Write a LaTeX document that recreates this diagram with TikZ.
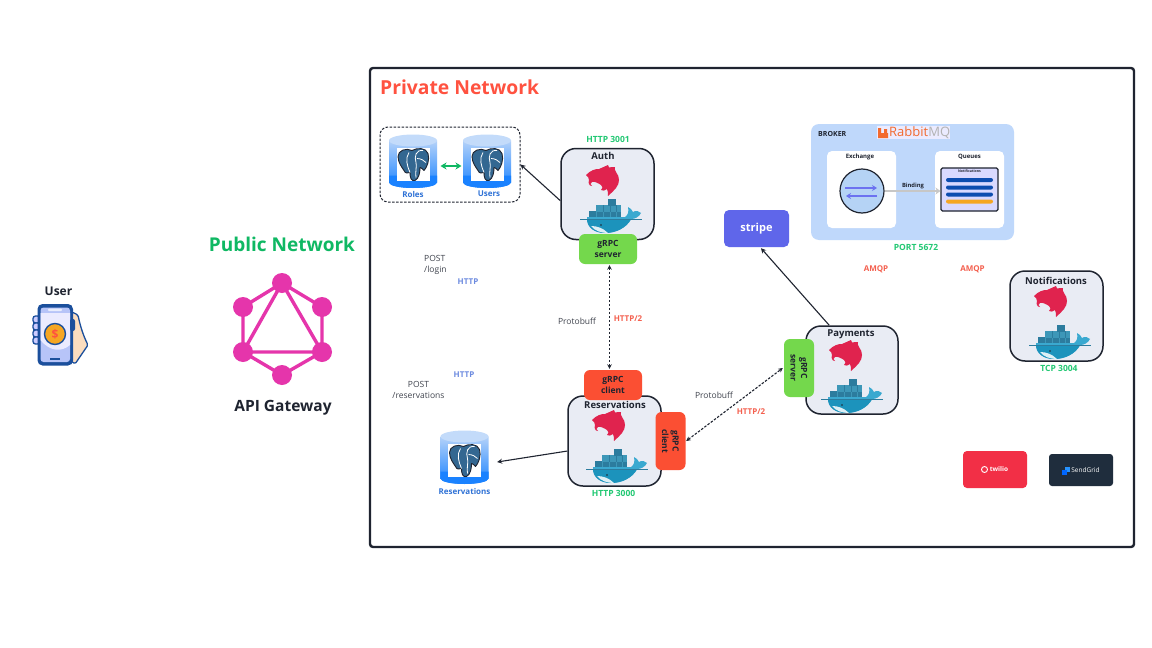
\documentclass[tikz,border=0pt]{standalone}
\usepackage{fontspec}
\setmainfont{Open Sans}
\usetikzlibrary{arrows.meta,calc,shapes.geometric}
\definecolor{ink}{HTML}{1F2430}
\definecolor{svcfill}{HTML}{E9ECF4}
\definecolor{grn}{HTML}{22C873}
\definecolor{pubgrn}{HTML}{0FB863}
\definecolor{red1}{HTML}{FF5240}
\definecolor{amqp}{HTML}{F4604F}
\definecolor{hblue}{HTML}{6D8BE0}
\definecolor{grpcg}{HTML}{74D84C}
\definecolor{grpcr}{HTML}{FB4F33}
\definecolor{nest}{HTML}{E0234E}
\definecolor{whale}{HTML}{1C93BC}
\definecolor{whalelt}{HTML}{3AA9D0}
\definecolor{crate}{HTML}{2C7C9E}
\definecolor{crate2}{HTML}{3D97B8}
\definecolor{pg}{HTML}{336791}
\definecolor{dbl}{HTML}{2F72D6}
\definecolor{dbtop}{HTML}{B4D2F9}
\definecolor{dbmid}{HTML}{7DB4F7}
\definecolor{dbbot}{HTML}{1A82FF}
\definecolor{gql}{HTML}{E535AB}
\definecolor{broker}{HTML}{BFD8FB}
\definecolor{exfill}{HTML}{B5D3F5}
\definecolor{arrowv}{HTML}{6C72F0}
\definecolor{qbar}{HTML}{0D4DB0}
\definecolor{qor}{HTML}{F5A623}
\definecolor{rabbit}{HTML}{F26A2E}
\definecolor{phone}{HTML}{1B4F9C}
\definecolor{skin}{HTML}{FBDDBF}
\definecolor{screen}{HTML}{B7C4F8}
\definecolor{twil}{HTML}{F22F46}
\definecolor{sgrid}{HTML}{1F2D3D}
\definecolor{stripec}{HTML}{5F66EA}
\tikzset{
  svc/.style={draw=ink,line width=1.5pt,fill=svcfill,rounded corners=15pt,minimum width=93pt,minimum height=91pt,inner sep=0pt},
  svctitle/.style={font=\bfseries\fontsize{9.5}{11}\selectfont,text=ink,inner sep=0pt},
  porttext/.style={font=\bfseries\fontsize{8.5}{10}\selectfont,text=grn,inner sep=0pt},
  grpcbox/.style={rounded corners=6pt,minimum width=58pt,minimum height=30pt,inner sep=0pt,align=center,font=\bfseries\fontsize{8.5}{10.5}\selectfont,text=ink},
  plain/.style={font=\fontsize{8.5}{11}\selectfont,text=ink!85,inner sep=0pt,align=center},
  redlab/.style={font=\bfseries\fontsize{8}{10}\selectfont,text=amqp,inner sep=0pt},
  bluelab/.style={font=\bfseries\fontsize{8}{10}\selectfont,text=hblue,inner sep=0pt},
  dblab/.style={font=\bfseries\fontsize{8}{10}\selectfont,text=dbl,inner sep=0pt},
  conn/.style={draw=ink,line width=1.1pt,-{Stealth[length=5pt,width=5pt]}},
  dashconn/.style={draw=ink,line width=1.1pt,dash pattern=on 2.5pt off 1.5pt,{Stealth[length=4.5pt,width=4.5pt]}-{Stealth[length=4.5pt,width=4.5pt]}},
  nestlogo/.pic={
    \fill[nest] (-17,-7) .. controls (-12,-12) and (-8,-13) .. (-4,-13)
      .. controls (-1,-14) and (2,-16) .. (5,-17) .. controls (5,-15.5) and (5,-15) .. (6,-14.5)
      .. controls (8,-15) and (10,-15) .. (12,-15) .. controls (11,-13) and (12,-12) .. (13,-10)
      .. controls (17,-5) and (17,1) .. (13,6) .. controls (11,9) and (8,11) .. (5,14)
      .. controls (5,11) and (5,9) .. (4,7) .. controls (2,9) and (0,9) .. (-2,8)
      .. controls (0,7) and (0,4) .. (-2,3) .. controls (-5,1) and (-9,-1) .. (-11,0)
      .. controls (-13,1) and (-13,3) .. (-11,4) .. controls (-14,4) and (-15,1) .. (-14,-2)
      .. controls (-14,-4) and (-15,-5) .. (-17,-7) -- cycle;
  },
  dockerwhale/.pic={
    \fill[crate] (-22,-4) rectangle (10,2.5);
    \fill[crate2] (-15,-10) rectangle (10,-3.5);
    \fill[crate] (-3,-16.5) rectangle (5,-9.5);
    \foreach \xx in {-15,-8,-1,5}{\draw[crate2,line width=0.5pt] (\xx,-4) -- (\xx,2.5);}
    \foreach \xx in {-8,-1,5}{\draw[crate,line width=0.5pt] (\xx,-10) -- (\xx,-3.5);}
    \fill[whalelt] (-24,2) -- (14,2) .. controls (17,0) and (18,-3) .. (17,-8)
      .. controls (19,-7) and (21,-5.5) .. (22,-3) .. controls (25,-5) and (28,-4) .. (30,-2)
      .. controls (28,2) and (24,4) .. (20,4) .. controls (15,13) and (5,18) .. (-6,18)
      .. controls (-17,18) and (-24,12) .. (-24,2) -- cycle;
    \fill[whale] (-24,4.5) -- (20,4.5) .. controls (15,13) and (5,18) .. (-6,18)
      .. controls (-17,18) and (-24,12) .. (-24,4.5) -- cycle;
    \fill[white!85!whale] (-20,11) .. controls (-14,11) and (-8,13) .. (-3,18) .. controls (-10,18) and (-16,16) .. (-20,11) -- cycle;
    \fill[ink] (-10,10) circle (0.8pt);
    \draw[crate,line width=0.6pt] (-31,4) -- (31,4);
  },
  elephant/.pic={
    \fill[white] (-16.5,-16.5) rectangle (16.5,16.5);
    \fill[pg,draw=ink,line width=0.9pt,line join=round] (-15,-8) .. controls (-15,-14) and (-7,-17) .. (-1,-14)
      .. controls (4,-17) and (13,-17) .. (15,-11) .. controls (17,-5) and (14,3) .. (11,6)
      .. controls (9,4) and (8,3) .. (7,3) .. controls (7,8) and (6,14) .. (2,16)
      .. controls (-2,17) and (-3,13) .. (-3,8) .. controls (-5,9) and (-8,9) .. (-9,6)
      .. controls (-11,3) and (-15,-2) .. (-15,-8) -- cycle;
    \draw[white,line width=0.8pt] (-4,-12) .. controls (-8,-6) and (-6,1) .. (-3,8);
    \draw[white,line width=0.8pt] (10,-14) .. controls (3,-15) and (1,-8) .. (3,-2) .. controls (4,2) and (2,8) .. (3,13);
    \draw[white,line width=0.8pt] (4,-6) .. controls (8,-6) and (11,-4) .. (13,-2);
  },
  pgdb/.pic={
    \shade[top color=dbtop,middle color=dbmid,bottom color=dbbot]
      (-24,-21) -- (-24,21) arc[start angle=180,end angle=360,x radius=24pt,y radius=5.5pt] -- (24,-21) -- cycle;
    \fill[dbbot] (-24,14) -- (-24,21) arc[start angle=180,end angle=360,x radius=24pt,y radius=5.5pt] -- (24,14) -- cycle;
    \fill[dbtop!80!white] (0,-21) ellipse [x radius=24pt,y radius=6pt];
    \pic at (0,3) {elephant};
  }
}
\begin{document}
\begin{tikzpicture}[x=1pt,y=-1pt]
\useasboundingbox (0,0) rectangle (1152,648);
\fill[white] (0,0) rectangle (1152,648);

% Private network frame
\node[draw=ink,line width=2.4pt,rounded corners=3pt,minimum width=764pt,minimum height=479pt,inner sep=0pt] (private) at (752,307.5) {};
\node[anchor=west,inner sep=0pt,font=\bfseries\fontsize{19.3}{22}\selectfont,text=red1] (privlabel) at (380,87) {Private Network};

% Left: user
\node[inner sep=0pt,font=\bfseries\fontsize{12}{14}\selectfont,text=ink] (usertxt) at (58.5,291) {User};
\fill[skin,draw=phone,line width=1.3pt,line join=round,rounded corners=1.5pt] (72,312) -- (78,315) .. controls (80,325) and (83,335) .. (88,345) -- (75,364) -- (70,360) -- cycle;
\foreach \yy in {316,323,330,337}{\fill[white!80!blue,draw=phone,line width=1.3pt,rounded corners=2.5pt] (33,\yy) rectangle ++(7,7);}
\fill[phone,rounded corners=5pt] (37.5,304) rectangle (73,365.5);
\fill[screen,rounded corners=3pt] (40.5,307.5) rectangle (70,362);
\fill[white!92!blue] (40.5,313) -- (70,313) -- (70,345) .. controls (62,352) and (50,352) .. (40.5,340) -- cycle;
\fill[white!70!screen,rounded corners=1pt] (48,308.5) rectangle (62,311);
\fill[phone] (50,358) rectangle (60,360);
\fill[phone,rounded corners=2pt] (70,319) rectangle (75,331);
\node[draw=phone,line width=1.4pt,circle,fill=qor,minimum size=21pt,inner sep=0pt,font=\bfseries\fontsize{12}{13}\selectfont,text=red1] (coin) at (55,334) {\$};

% GraphQL gateway
\node[inner sep=0pt,font=\bfseries\fontsize{19}{22}\selectfont,text=pubgrn] (pubnet) at (282,244.5) {Public Network};
\coordinate (gT) at (282,283); \coordinate (gUR) at (322,307); \coordinate (gLR) at (322,352);
\coordinate (gB) at (282,375); \coordinate (gLL) at (243,352); \coordinate (gUL) at (243,307);
\draw[gql,line width=3.4pt,line join=round] (gT) -- (gUR) -- (gLR) -- (gB) -- (gLL) -- (gUL) -- cycle;
\draw[gql,line width=3.4pt,line join=round] (gT) -- (gLR) -- (gLL) -- cycle;
\foreach \c in {gT,gUR,gLR,gB,gLL,gUL}{\fill[gql] (\c) circle (10pt);}
\node[inner sep=0pt,font=\bfseries\fontsize{15.5}{18}\selectfont,text=ink] (apigw) at (283,407.5) {API Gateway};

% DB group
\node[draw=ink,line width=1pt,dash pattern=on 2.5pt off 1.5pt,rounded corners=8pt,minimum width=140pt,minimum height=75pt,inner sep=0pt] (dbgroup) at (450,164.5) {};
\pic at (413,161.5) {pgdb};
\pic at (487,161.5) {pgdb};
\node[dblab] (roleslab) at (413,194) {Roles};
\node[dblab] (userslab) at (489,194) {Users};
\coordinate (rolesR) at (440.5,166); \coordinate (usersL) at (461.5,166);
\draw[pubgrn,line width=1.8pt,{Stealth[length=6pt,width=7pt]}-{Stealth[length=6pt,width=7pt]}] (rolesR) -- (usersL);

% Services
\node[svc] (auth) at (607.5,194) {};
\node[svc,minimum height=90pt] (res) at (614.5,441) {};
\node[svc,minimum width=92pt,minimum height=88pt] (pay) at (852,370) {};
\node[svc,minimum height=90pt] (notif) at (1056.5,316) {};
\node[svctitle] (authT) at (603,156) {Auth};
\node[svctitle] (payT) at (851,334) {Payments};
\node[svctitle] (notifT) at (1056,281) {Notifications};
\pic at (603,182) {nestlogo};
\pic at (611,215) {dockerwhale};
\pic at (609,427) {nestlogo};
\pic at (617,465) {dockerwhale};
\pic at (846,357) {nestlogo};
\pic at (852,395) {dockerwhale};
\pic at (1051,303) {nestlogo};
\pic at (1060,341) {dockerwhale};
\node[porttext] (p3001) at (608,139) {HTTP 3001};
\node[porttext] (p3000) at (613.5,493) {HTTP 3000};
\node[porttext] (p3004) at (1059,368) {TCP 3004};

% gRPC tags
\node[grpcbox,fill=grpcg] (grpcs) at (608,249) {gRPC\\server};
\node[grpcbox,fill=grpcr] (grpcc) at (613,385) {gRPC\\client};
\node[svctitle] (resT) at (615,405) {Reservations};
\node[grpcbox,fill=grpcr,rotate=-90] (grpcc2) at (670.5,441) {gRPC\\client};
\node[grpcbox,fill=grpcg,rotate=-90] (grpcs2) at (799,368) {gRPC\\server};

% Reservations DB
\node[inner sep=0pt,minimum width=49pt,minimum height=55pt] (resdb) at (464.5,457.5) {};
\pic at (464.5,457.5) {pgdb};
\node[dblab] (resdbT) at (464.5,491) {Reservations};

% Stripe
\node[fill=stripec,rounded corners=5pt,minimum width=65pt,minimum height=37pt,inner sep=0pt,font=\bfseries\fontsize{11}{12}\selectfont,text=white] (stripe) at (756.5,228.5) {stripe};

% Broker
\node[fill=broker,rounded corners=8pt,minimum width=203pt,minimum height=116pt,inner sep=0pt] (brokerbox) at (912.5,182) {};
\node[inner sep=0pt,font=\bfseries\fontsize{7}{8}\selectfont,text=ink,anchor=west] (brokerT) at (818,133.5) {BROKER};
\fill[white!92!blue] (877,126) rectangle (950,139);
\fill[rabbit] (878,128) rectangle (881,138) (881,133) rectangle (888,138) (884,129) rectangle (887,133);
\node[inner sep=0pt,anchor=west,font=\fontsize{13}{14}\selectfont] (rabbitT) at (889,133) {\textcolor{rabbit}{Rabbit}\textcolor{black!30}{MQ}};
\node[fill=white,rounded corners=5pt,minimum width=69pt,minimum height=77pt,inner sep=0pt] (exch) at (861.5,189.5) {};
\node[fill=white,rounded corners=5pt,minimum width=69pt,minimum height=77pt,inner sep=0pt] (queues) at (969.5,189.5) {};
\node[inner sep=0pt,font=\bfseries\fontsize{6}{7}\selectfont,text=ink] (exchT) at (860,157) {Exchange};
\node[inner sep=0pt,font=\bfseries\fontsize{6}{7}\selectfont,text=ink] (queuesT) at (969.5,157) {Queues};
\node[draw=ink,line width=1.2pt,fill=exfill,circle,minimum size=44pt,inner sep=0pt] (xcircle) at (862,191) {};
\coordinate (xa1) at (845,188); \coordinate (xa2) at (877,188);
\coordinate (xb1) at (877,196); \coordinate (xb2) at (846,196);
\draw[arrowv,line width=1.5pt,-{Stealth[length=5pt,width=6pt]}] (xa1) -- (xa2);
\draw[arrowv,line width=1.5pt,-{Stealth[length=5pt,width=6pt]}] (xb1) -- (xb2);
\node[draw=ink,line width=1.1pt,fill=white!85!blue,rounded corners=1.5pt,minimum width=57pt,minimum height=43pt,inner sep=0pt] (qpanel) at (969.5,189.5) {};
\node[inner sep=0pt,font=\bfseries\fontsize{3.5}{4}\selectfont,text=ink] (qT) at (969.5,171.5) {Notifications};
\draw[black!22,line width=2pt,-{Stealth[length=5pt,width=7pt]}] (xcircle.east) -- (qpanel.west |- xcircle.east);
\node[inner sep=0pt,font=\bfseries\fontsize{5.8}{7}\selectfont,text=ink] (bindT) at (913,186) {Binding};
\foreach \yy/\cc in {180/qbar,187.5/qbar,194.5/qbar,201.5/qor}{\fill[\cc,rounded corners=2pt] (946,\yy-2) rectangle (993,\yy+2);}
\node[porttext] (p5672) at (916,247) {PORT 5672};

% Twilio, SendGrid
\node[fill=twil,rounded corners=4pt,minimum width=64pt,minimum height=37pt,inner sep=0pt,font=\bfseries\fontsize{6.5}{8}\selectfont,text=white] (twilio) at (995,469.5) {\hspace{8pt}twilio};
\draw[white,line width=0.9pt] ($(twilio.center)+(-10.5,0)$) circle (3pt);
\node[fill=sgrid,rounded corners=3pt,minimum width=64pt,minimum height=32pt,inner sep=0pt,font=\fontsize{6.5}{8}\selectfont,text=white] (sendgrid) at (1081,470) {\hspace{9pt}SendGrid};
\fill[blue!50!cyan!85!white] ($(sendgrid.center)+(-16,-3)$) rectangle ++(5,5);
\fill[blue!60!cyan] ($(sendgrid.center)+(-19,0)$) rectangle ++(5,5);

% Connectors
\draw[conn] (auth.188.6) -- (dbgroup.east);
\draw[conn] (res.192) -- ($(resdb.east)+(8,4.5)$);
\draw[conn] (pay.117) -- ($(stripe.south)+(4.5,1)$);
\draw[dashconn] ($(grpcs.south)+(1.5,1)$) -- ($(grpcc.north)+(-3.5,-1)$);
\draw[dashconn] ($(grpcc2.north)+(0.5,0)$) -- ($(grpcs2.south)+(-1,0)$);

% Labels on links
\node[plain,align=left,anchor=west] (postlogin) at (424,264.5) {POST\\/login};
\node[bluelab] (http1) at (468,282) {HTTP};
\node[plain] (postres) at (418.5,389.5) {POST\\/reservations};
\node[bluelab] (http2) at (464,375) {HTTP};
\node[plain] (proto1) at (577,321) {Protobuff};
\node[redlab] (h21) at (628,319) {HTTP/2};
\node[plain] (proto2) at (714,395.5) {Protobuff};
\node[redlab] (h22) at (751,412) {HTTP/2};
\node[redlab] (amqp1) at (876,269) {AMQP};
\node[redlab] (amqp2) at (972.5,269) {AMQP};
\end{tikzpicture}
\end{document}
